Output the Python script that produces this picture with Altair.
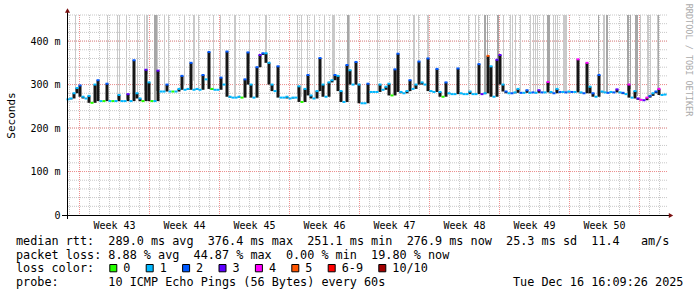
import json
import altair as alt
import pandas as pd
import numpy as np

# ---------------- data ----------------
# median RTT in ms, one sample every 0.3 day starting 0.1 day after the left edge
rtt_ms = [
    266, 268, 280, 292, 298, 272, 268, 274, 258, 300,
    310, 262, 262, 302, 262, 262, 262, 276, 262, 262,
    278, 262, 356, 280, 268, 262, 334, 305, 262, 262,
    332, 284, 284, 300, 284, 284, 284, 290, 320, 288,
    290, 350, 288, 290, 288, 322, 312, 375, 290, 288,
    288, 316, 300, 376, 272, 270, 270, 272, 270, 312,
    374, 300, 270, 340, 368, 372, 372, 350, 300, 285,
    342, 270, 270, 272, 268, 270, 270, 296, 260, 290,
    322, 275, 268, 285, 361, 300, 272, 305, 310, 322,
    320, 285, 260, 345, 333, 300, 352, 300, 257, 257,
    302, 283, 283, 283, 300, 288, 295, 302, 275, 335,
    371, 283, 280, 285, 310, 290, 300, 353, 305, 300,
    360, 285, 283, 336, 283, 272, 305, 280, 278, 278,
    337, 280, 278, 278, 284, 278, 278, 347, 278, 280,
    366, 342, 272, 357, 368, 300, 284, 280, 280, 282,
    290, 281, 281, 287, 281, 282, 281, 287, 282, 282,
    306, 283, 280, 290, 283, 283, 282, 284, 283, 283,
    358, 282, 280, 350, 295, 280, 272, 322, 284, 282,
    281, 283, 282, 289, 282, 281, 278, 300, 270, 285,
    268, 265, 264, 270, 274, 280, 284, 290, 276, 277,
]
# lost pings (of 10) for each sample
lost_pings = [
    1, 1, 1, 1, 2, 1, 1, 1, 0, 1,
    2, 1, 0, 2, 1, 0, 1, 1, 1, 1,
    3, 1, 2, 1, 1, 0, 3, 1, 0, 1,
    3, 1, 1, 2, 1, 0, 1, 1, 2, 1,
    1, 2, 1, 1, 1, 2, 1, 2, 0, 1,
    1, 2, 1, 2, 1, 1, 1, 1, 0, 2,
    2, 1, 1, 2, 3, 2, 1, 1, 1, 1,
    2, 1, 1, 1, 1, 1, 1, 1, 0, 1,
    2, 1, 1, 1, 2, 1, 1, 1, 1, 2,
    1, 1, 1, 2, 1, 1, 2, 1, 1, 1,
    2, 1, 1, 1, 1, 1, 1, 1, 0, 2,
    2, 1, 1, 1, 2, 1, 1, 2, 1, 1,
    2, 1, 1, 2, 1, 0, 2, 1, 1, 1,
    2, 1, 1, 1, 1, 1, 1, 2, 3, 1,
    5, 1, 1, 3, 3, 1, 2, 1, 2, 1,
    1, 2, 1, 2, 1, 2, 1, 3, 2, 1,
    4, 1, 2, 1, 2, 1, 2, 1, 2, 1,
    4, 1, 2, 4, 1, 2, 1, 2, 1, 1,
    2, 1, 2, 3, 1, 2, 1, 4, 1, 1,
    3, 4, 3, 4, 2, 1, 2, 4, 1, 1,
]
# smoke columns reaching above the graph top (day, 1 = few / 2 = many high pings)
smoke_day = [
    0.8, 4.0, 5.0, 5.2, 5.9, 7.0, 7.7, 7.9, 8.0, 8.7, 8.8, 8.9, 9.0, 9.7, 10.1,
    11.7, 12.6, 12.7, 13.1, 14.6, 15.3, 16.7, 16.8, 18.2, 19.8, 19.9, 23.0, 23.4,
    24.0, 24.7, 25.7, 26.5, 26.6, 26.7, 28.0, 28.1, 28.2, 31.0, 33.0, 34.6, 34.7,
    35.1, 36.0, 36.1, 40.1, 40.8, 41.1, 41.7, 41.8, 42.0, 43.0, 43.1, 43.6, 44.3,
    44.5, 44.8, 45.3, 46.3, 46.6, 46.8, 47.0, 47.6, 48.0, 48.1, 48.2, 48.6, 48.8,
    49.0, 49.6, 49.7, 49.8, 49.9, 53.1, 53.6, 53.7, 53.9, 54.0, 56.0, 56.1, 56.3,
    56.8, 56.9, 57.0, 57.3, 58.0, 58.1, 58.3, 59.0, 59.1,
]
smoke_level = [
    1, 1, 1, 1, 1, 1, 1, 1, 1, 2, 2, 2, 1, 1, 1,
    1, 1, 1, 1, 1, 1, 1, 1, 1, 1, 1, 1, 1,
    1, 1, 1, 1, 1, 1, 2, 2, 1, 1, 1, 1, 1,
    1, 1, 1, 1, 1, 1, 2, 2, 2, 2, 2, 1, 1,
    1, 1, 1, 1, 1, 1, 1, 1, 2, 2, 2, 1, 1,
    1, 1, 1, 1, 1, 2, 1, 1, 2, 2, 2, 2, 2,
    2, 2, 2, 1, 1, 1, 1, 1, 2,
]
loss_labels = ["0", "1", "2", "3", "4", "5", "6-9", "10/10"]
loss_colors = ["#26ff00", "#00b8ff", "#0059ff", "#5e00ff", "#ff00ff",
               "#ff5500", "#ff0000", "#a10000"]
week_labels = ["Week 43", "Week 44", "Week 45", "Week 46",
               "Week 47", "Week 48", "Week 49", "Week 50"]
y_tick_values = [0, 100, 200, 300, 400]
legend_rows = [
    "median rtt:  289.0 ms avg  376.4 ms max  251.1 ms min  276.9 ms now  25.3 ms sd  11.4   am/s",
    "packet loss: 8.88 % avg  44.87 % max  0.00 % min  19.80 % now",
    "loss color:",
    "probe:       10 ICMP Echo Pings (56 Bytes) every 60s",
]
timestamp = "Tue Dec 16 16:09:26 2025"
credit = "RRDTOOL / TOBI OETIKER"
axis_title = "Seconds"

# ---------------- layout constants ----------------
SAMPLE_START, SAMPLE_STEP, SMOKE_STEP = 0.1, 0.3, 0.1   # days
X_DAYS, Y_MAX = 60, 460
W, H = 600, 200
PAD = {"left": 67, "top": 15, "right": 30, "bottom": 82}
MONO = "DejaVu Sans Mono"
NB = "\u00a0"


def loss_class(n):
    if n >= 10:
        return loss_labels[7]
    if n >= 6:
        return loss_labels[6]
    return loss_labels[n]


samples = pd.DataFrame({
    "day": [SAMPLE_START + SAMPLE_STEP * i for i in range(len(rtt_ms))],
    "rtt": rtt_ms,
    "cls": [loss_class(n) for n in lost_pings],
})
samples["d0"] = samples["day"] - SAMPLE_STEP / 2
samples["d1"] = samples["day"] + SAMPLE_STEP / 2
# dense smoke: each sample's column reaches down to its lowest neighbour
prev_v = samples["rtt"].shift(1).fillna(samples["rtt"])
next_v = samples["rtt"].shift(-1).fillna(samples["rtt"])
samples["lo"] = np.minimum(samples["rtt"], np.minimum(prev_v, next_v))

smoke = pd.DataFrame({"day": smoke_day, "level": smoke_level})
smoke["d1"] = smoke["day"] + SMOKE_STEP
smoke["bot"] = np.interp(smoke["day"], samples["day"], samples["rtt"])
smoke["top"] = Y_MAX

week_start = [1.2 + 7 * k for k in range(9)]
week_mid = [w + 3.5 for w in week_start[:8]]
minor_v = pd.DataFrame({"day": [0.2 + k for k in range(X_DAYS)]})
major_v = pd.DataFrame({"day": week_start})
minor_h = pd.DataFrame({"rtt": list(range(20, Y_MAX + 1, 20))})
major_h = pd.DataFrame({"rtt": [100, 200, 300, 400]})

xs = alt.Scale(domain=[0, X_DAYS], nice=False, zero=False)
ys = alt.Scale(domain=[0, Y_MAX], nice=False)

week_expr = json.dumps(week_labels) + "[round((datum.value - %s) / 7)]" % week_mid[0]
X_AXIS = alt.Axis(
    values=week_mid, labelExpr=week_expr, ticks=False, domain=False, grid=False,
    labelFont=MONO, labelFontSize=10, labelColor="black", labelPadding=5,
    labelFlush=False, labelOverlap=False, title=None)
Y_AXIS = alt.Axis(
    values=y_tick_values, labelExpr="datum.value == 0 ? '0' : datum.value + ' m'",
    ticks=False, domain=False, grid=False,
    labelFont=MONO, labelFontSize=10, labelColor="black", labelPadding=7,
    title=axis_title, titleFont=MONO, titleFontSize=11, titleFontWeight="normal",
    titleColor="black", titleX=-56, titleY=H / 2, titleAngle=270,
    titleAlign="center", titleBaseline="middle")


def X(field):
    return alt.X(field, scale=xs, axis=X_AXIS)


def Y(field):
    return alt.Y(field, scale=ys, axis=Y_AXIS)


grid_minor_v = alt.Chart(minor_v).mark_rule(
    color="#c8c8c8", strokeWidth=1, strokeDash=[1, 1], xOffset=0.5
).encode(x=X("day:Q"))
grid_minor_h = alt.Chart(minor_h).mark_rule(
    color="#c8c8c8", strokeWidth=1, strokeDash=[1, 1]
).encode(y=Y("rtt:Q"))
grid_major_v = alt.Chart(major_v).mark_rule(
    color="#ee9090", strokeWidth=1, strokeDash=[1, 1], xOffset=0.5
).encode(x=X("day:Q"))
grid_major_h = alt.Chart(major_h).mark_rule(
    color="#ee9090", strokeWidth=1, strokeDash=[1, 1]
).encode(y=Y("rtt:Q"))

smoke_layers = []
for lvl, shade in [(1, "#c9c9c9"), (2, "#a6a6a6")]:
    smoke_layers.append(
        alt.Chart(smoke).transform_filter(alt.datum.level == lvl).mark_rect(color=shade).encode(
            x=X("day:Q"), x2="d1:Q", y=Y("top:Q"), y2="bot:Q"))

dense_layer = alt.Chart(samples).mark_rect(color="#161616").encode(
    x=X("d0:Q"), x2="d1:Q", y=Y("rtt:Q"), y2="lo:Q")

loss_layer = alt.Chart(samples).mark_rule(strokeWidth=2).encode(
    x=X("d0:Q"),
    x2="d1:Q",
    y=Y("rtt:Q"),
    color=alt.Color("cls:N", scale=alt.Scale(domain=loss_labels, range=loss_colors),
                    legend=None),
)

one = pd.DataFrame({"k": [0]})
decor = []
# axis lines and arrows
decor.append(alt.Chart(one).mark_rule(color="black", strokeWidth=1).encode(
    x=alt.value(-5), x2=alt.value(W + 2), y=alt.value(H + 0.5)))
decor.append(alt.Chart(one).mark_rule(color="black", strokeWidth=1).encode(
    x=alt.value(0.5), y=alt.value(H + 4), y2=alt.value(-4)))
decor.append(alt.Chart(one).mark_point(shape="triangle-right", filled=True, color="#7a1010",
                                       size=26, opacity=1).encode(
    x=alt.value(W + 4), y=alt.value(H + 0.5)))
decor.append(alt.Chart(one).mark_point(shape="triangle-up", filled=True, color="#7a1010",
                                       size=26, opacity=1).encode(
    x=alt.value(0.5), y=alt.value(-4.5)))

# legend text rows
row_base = [230, 243.7, 257.3, 271]
for txt, yb in zip(legend_rows, row_base):
    decor.append(alt.Chart(one).mark_text(
        font=MONO, fontSize=11.8, align="left", baseline="alphabetic", color="black"
    ).encode(x=alt.value(16 - PAD["left"]), y=alt.value(yb), text=alt.value(txt.replace(" ", NB))))
decor.append(alt.Chart(one).mark_text(
    font=MONO, fontSize=11.8, align="left", baseline="alphabetic", color="black"
).encode(x=alt.value(513 - PAD["left"]), y=alt.value(row_base[3]), text=alt.value(timestamp)))

# loss colour boxes
bx = 109.3
for lab, col in zip(loss_labels, loss_colors):
    x0 = bx - PAD["left"]
    decor.append(alt.Chart(one).mark_rect(fill=col, stroke="black", strokeWidth=1).encode(
        x=alt.value(x0 + 0.5), x2=alt.value(x0 + 7.5),
        y=alt.value(249.5), y2=alt.value(256.8)))
    decor.append(alt.Chart(one).mark_text(
        font=MONO, fontSize=11.8, align="left", baseline="alphabetic", color="black"
    ).encode(x=alt.value(x0 + 14), y=alt.value(row_base[2]), text=alt.value(lab)))
    bx += 29.3 + 7.1 * len(lab)

# credit text
decor.append(alt.Chart(one).mark_text(
    font=MONO, fontSize=8.5, angle=90, align="center", baseline="middle", color="#aaaaaa"
).encode(x=alt.value(688.5 - PAD["left"]), y=alt.value(60 - PAD["top"]), text=alt.value(credit)))

chart = alt.layer(
    grid_minor_v, grid_minor_h, grid_major_v, grid_major_h,
    *smoke_layers, dense_layer, loss_layer, *decor
).properties(
    width=W, height=H,
    autosize=alt.AutoSizeParams(type="none"),
    padding=PAD,
    background="white",
).configure_view(stroke=None)

chart.save("out.html", embed_options={"renderer": "svg", "actions": False})
